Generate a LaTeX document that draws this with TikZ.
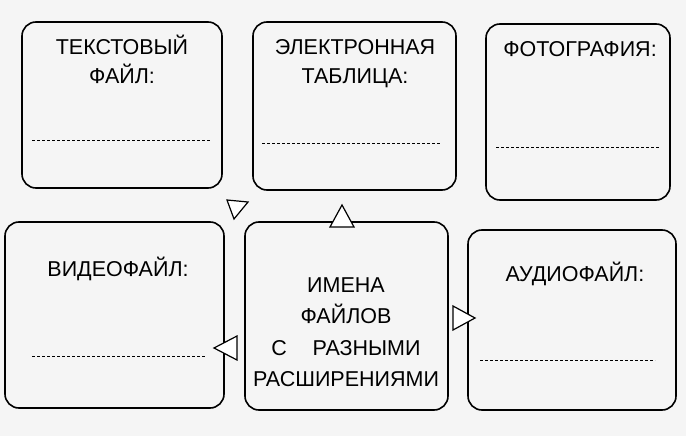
\documentclass[tikz,border=0pt]{standalone}
\usepackage{fontspec}
\setmainfont{Liberation Sans}
\tikzset{
 box/.style={draw, line width=1.6pt, rounded corners=14pt},
 lbl/.style={font=\fontsize{21.5}{29}\selectfont, align=center, anchor=north},
 dl/.style={densely dashed, line width=0.6pt},
 tri/.style={draw, line width=1.2pt, fill=white, line join=miter}
}
\begin{document}
\begin{tikzpicture}[x=1pt,y=-1pt]
\fill[gray!8] (0,0) rectangle (686,436);
\useasboundingbox (0,0) rectangle (686,436);
\draw[box] (22,22) rectangle (222,188);
\draw[box] (253,22) rectangle (456,190);
\draw[box] (486,24) rectangle (670,200);
\draw[box] (5,222) rectangle (224,408);
\draw[box] (245,222) rectangle (448,410);
\draw[box] (468,230) rectangle (676,410);
\node[lbl] (t1) at (122,32) {ТЕКСТОВЫЙ\\ФАЙЛ:};
\node[lbl] (t2) at (355,36) {ЭЛЕКТРОННАЯ\\ТАБЛИЦА:};
\node[lbl] (t3) at (580,38) {ФОТОГРАФИЯ:};
\node[lbl] (t4) at (118,254) {ВИДЕОФАЙЛ:};
\node[lbl] (t5) at (346,274) {ИМЕНА\\[2.5pt]ФАЙЛОВ\\[2.5pt]С\hspace{1.2em}РАЗНЫМИ\\[2.5pt]РАСШИРЕНИЯМИ};
\node[lbl] (t6) at (575,259) {АУДИОФАЙЛ:};
\draw[dl] (32,140) -- (210,140);
\draw[dl] (262,143) -- (440,143);
\draw[dl] (496,147) -- (660,147);
\draw[dl] (32,356) -- (205,356);
\draw[dl] (480,360) -- (655,360);
\draw[tri] (227,200) -- (248,202) -- (234,219) -- cycle;
\draw[tri] (342,205) -- (354,227) -- (330,227) -- cycle;
\draw[tri] (475,318) -- (453,306) -- (453,330) -- cycle;
\draw[tri] (214,348) -- (237,336) -- (237,360) -- cycle;
\end{tikzpicture}
\end{document}
